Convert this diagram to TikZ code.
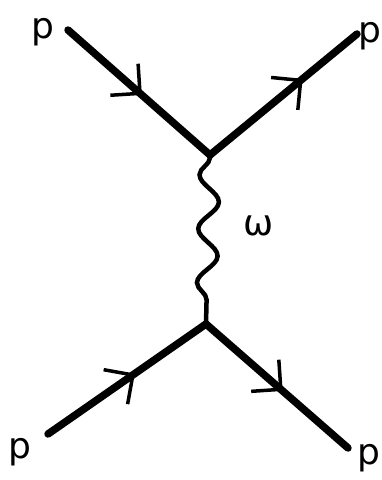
\documentclass[tikz,border=0pt]{standalone}
\usepackage{fontspec}
\setmainfont{DejaVu Sans}
\usetikzlibrary{arrows.meta,decorations.markings,decorations.pathmorphing}
\tikzset{
  fermion/.style={line width=7.5pt, line cap=round,
    postaction={decorate, decoration={markings,
      mark=at position #1 with {\arrow{Straight Barb[length=21pt,width=42pt,line width=3.5pt]}}}}},
  boson/.style={line width=4.5pt, line cap=round,
    decorate, decoration={snake, mirror, segment length=54pt, amplitude=10pt, pre length=3pt, post length=3pt}},
  lbl/.style={font=\fontsize{36}{36}\selectfont, inner sep=0pt},
}
\begin{document}
\begin{tikzpicture}[x=1pt,y=-1pt]
\useasboundingbox (0,0) rectangle (382,480);
\coordinate (v1) at (210,155);
\coordinate (v2) at (206,324);
\coordinate (a) at (68,30);
\coordinate (b) at (357,34);
\coordinate (c) at (48,434);
\coordinate (d) at (348,448);
\draw[fermion=0.52] (a) -- (v1);
\draw[fermion=0.63] (v1) -- (b);
\draw[fermion=0.55] (c) -- (v2);
\draw[fermion=0.54] (v2) -- (d);
\draw[boson] (v1) -- (v2);
\node[lbl] (pa) at (43,32) {p};
\node[lbl] (pb) at (370,36) {p};
\node[lbl] (pc) at (20,452) {p};
\node[lbl] (pd) at (369,458) {p};
\node[lbl] (w) at (259,226) {ω};
\end{tikzpicture}
\end{document}
